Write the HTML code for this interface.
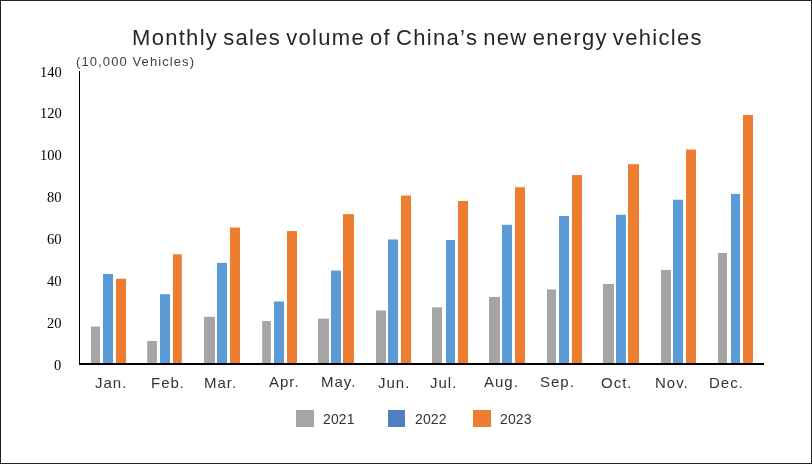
<!DOCTYPE html>
<html><head><meta charset="utf-8"><style>
html,body{margin:0;padding:0;background:#fff;}
body{width:812px;height:464px;position:relative;overflow:hidden;font-family:"Liberation Sans",sans-serif;}
div{will-change:transform;}
.frame{position:absolute;left:0;top:0;width:810px;height:462px;border:1px solid #222;}
.t{position:absolute;white-space:nowrap;}
.title{left:132px;top:24.8px;font-size:22px;letter-spacing:1.3px;word-spacing:-2.3px;color:#262626;}
.unit{left:75.5px;top:54px;font-size:13px;letter-spacing:1.1px;color:#404040;}
.yl{position:absolute;right:750.5px;font-family:"Liberation Serif",serif;font-size:14.5px;color:#000;text-align:right;}
.m{position:absolute;top:374px;font-size:15px;letter-spacing:1px;color:#333;white-space:nowrap;}
.lg{position:absolute;top:410.8px;font-size:14px;letter-spacing:0.15px;color:#333;}
.sq{position:absolute;top:410px;width:17px;height:17px;}
svg{position:absolute;left:0;top:0;}
</style></head><body>
<div class="frame"></div>
<div class="t title">Monthly sales volume of China’s new energy vehicles</div>
<div class="t unit">(10,000 Vehicles)</div>
<div class="yl" style="top:357px">0</div><div class="yl" style="top:315px">20</div><div class="yl" style="top:273px">40</div><div class="yl" style="top:231px">60</div><div class="yl" style="top:189px">80</div><div class="yl" style="top:147px">100</div><div class="yl" style="top:105px">120</div><div class="yl" style="top:64px">140</div>
<svg width="812" height="464" viewBox="0 0 812 464">
<rect x="91.00" y="326.59" width="9.00" height="37.41" fill="#a5a5a5"/><rect x="147.20" y="341.01" width="9.70" height="22.99" fill="#a5a5a5"/><rect x="204.00" y="316.77" width="11.00" height="47.23" fill="#a5a5a5"/><rect x="262.20" y="320.95" width="8.70" height="43.05" fill="#a5a5a5"/><rect x="318.00" y="318.65" width="11.00" height="45.35" fill="#a5a5a5"/><rect x="376.00" y="310.50" width="10.00" height="53.50" fill="#a5a5a5"/><rect x="432.00" y="307.36" width="10.00" height="56.64" fill="#a5a5a5"/><rect x="489.00" y="296.91" width="11.00" height="67.09" fill="#a5a5a5"/><rect x="547.00" y="289.39" width="9.00" height="74.61" fill="#a5a5a5"/><rect x="603.00" y="283.95" width="11.00" height="80.05" fill="#a5a5a5"/><rect x="661.00" y="269.95" width="10.00" height="94.05" fill="#a5a5a5"/><rect x="718.00" y="253.02" width="9.00" height="110.98" fill="#a5a5a5"/><rect x="103.00" y="273.92" width="10.00" height="90.08" fill="#5b9bd5"/><rect x="160.00" y="294.19" width="10.00" height="69.81" fill="#5b9bd5"/><rect x="217.00" y="262.84" width="10.00" height="101.16" fill="#5b9bd5"/><rect x="274.00" y="301.51" width="10.00" height="62.49" fill="#5b9bd5"/><rect x="331.00" y="270.58" width="10.00" height="93.42" fill="#5b9bd5"/><rect x="388.00" y="239.44" width="10.00" height="124.56" fill="#5b9bd5"/><rect x="446.00" y="240.06" width="9.00" height="123.94" fill="#5b9bd5"/><rect x="502.00" y="224.81" width="10.00" height="139.19" fill="#5b9bd5"/><rect x="559.00" y="216.03" width="10.00" height="147.97" fill="#5b9bd5"/><rect x="616.00" y="214.77" width="10.00" height="149.23" fill="#5b9bd5"/><rect x="673.00" y="199.73" width="10.00" height="164.27" fill="#5b9bd5"/><rect x="731.00" y="193.87" width="9.00" height="170.13" fill="#5b9bd5"/><rect x="116.00" y="278.73" width="10.00" height="85.27" fill="#ed7d31"/><rect x="173.00" y="254.28" width="8.80" height="109.72" fill="#ed7d31"/><rect x="230.00" y="227.52" width="10.00" height="136.48" fill="#ed7d31"/><rect x="287.00" y="231.08" width="10.00" height="132.92" fill="#ed7d31"/><rect x="343.00" y="214.15" width="11.00" height="149.85" fill="#ed7d31"/><rect x="401.00" y="195.55" width="10.00" height="168.45" fill="#ed7d31"/><rect x="458.00" y="200.98" width="10.00" height="163.02" fill="#ed7d31"/><rect x="515.00" y="187.19" width="10.00" height="176.81" fill="#ed7d31"/><rect x="572.00" y="175.06" width="10.00" height="188.94" fill="#ed7d31"/><rect x="628.00" y="164.20" width="11.00" height="199.80" fill="#ed7d31"/><rect x="686.00" y="149.57" width="10.00" height="214.43" fill="#ed7d31"/><rect x="743.00" y="115.08" width="10.00" height="248.92" fill="#ed7d31"/>
<rect x="79" y="71" width="1" height="293" fill="#000"/>
<rect x="79" y="363" width="685" height="2" fill="#000"/>
</svg>
<div class="m" style="left:94.60px;top:374px">Jan.</div><div class="m" style="left:151.15px;top:374px">Feb.</div><div class="m" style="left:204.25px;top:374px">Mar.</div><div class="m" style="left:268.95px;top:373px">Apr.</div><div class="m" style="left:320.85px;top:373px">May.</div><div class="m" style="left:377.70px;top:374px">Jun.</div><div class="m" style="left:429.70px;top:374px">Jul.</div><div class="m" style="left:484.15px;top:373px">Aug.</div><div class="m" style="left:539.90px;top:373px">Sep.</div><div class="m" style="left:600.60px;top:374px">Oct.</div><div class="m" style="left:655.15px;top:374px">Nov.</div><div class="m" style="left:709.40px;top:374px">Dec.</div>
<div class="sq" style="left:296px;width:18px;background:#a5a5a5"></div><div class="lg" style="left:323.2px">2021</div>
<div class="sq" style="left:388px;background:#4e80c0"></div><div class="lg" style="left:415.2px">2022</div>
<div class="sq" style="left:473px;width:18px;background:#ed7d31"></div><div class="lg" style="left:500.4px">2023</div>
</body></html>
